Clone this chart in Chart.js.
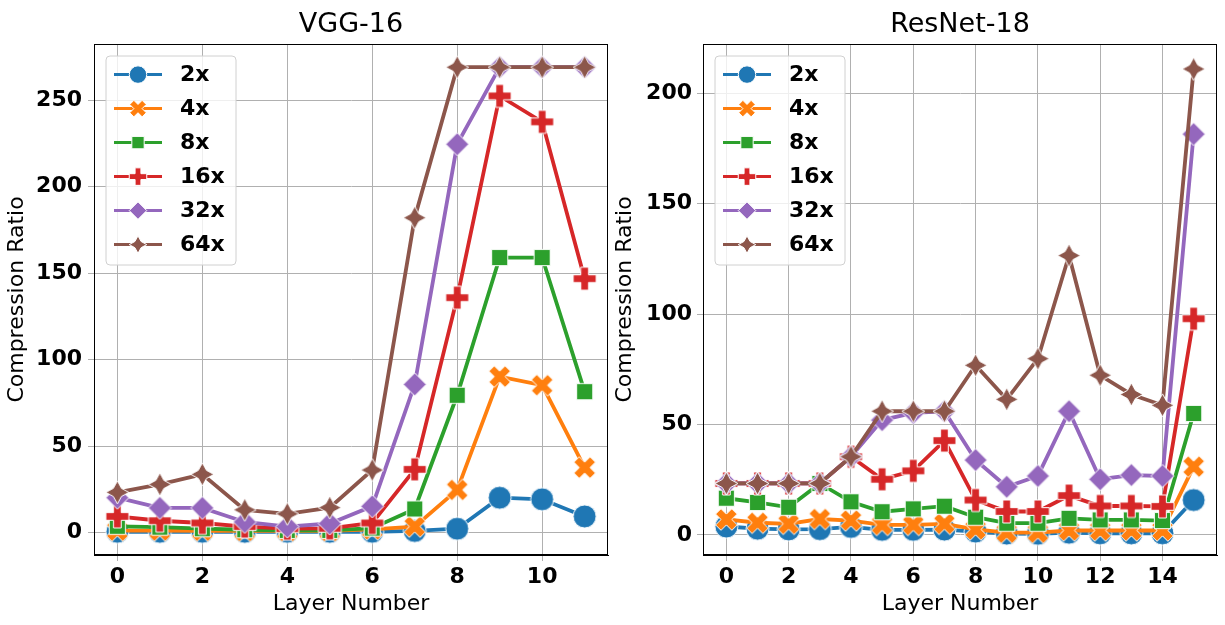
<!DOCTYPE html>
<html>
<head>
<meta charset="utf-8">
<script src="https://cdn.jsdelivr.net/npm/chart.js@4.4.1/dist/chart.umd.min.js"></script>
<style>
  html, body { margin: 0; padding: 0; background: #ffffff; }
  #wrap { position: relative; width: 1225px; height: 625px; overflow: hidden; }
  .cbox { position: absolute; top: 0; height: 625px; }
</style>
</head>
<body>
<div id="wrap">
  <div class="cbox" style="left:0;width:612px;"><canvas id="c1" width="612" height="625"></canvas></div>
  <div class="cbox" style="left:612px;width:613px;"><canvas id="c2" width="613" height="625"></canvas></div>
</div>
<script>
// ---------------- DATA ----------------
const seriesLabels = ['2x', '4x', '8x', '16x', '32x', '64x'];

const vggTitle = 'VGG-16';
const vggLayers = [0, 1, 2, 3, 4, 5, 6, 7, 8, 9, 10, 11];
const vgg2x  = [0.5, 0.5, 0.5, 0.5, 0.5, 0.5, 0.5, 1.0, 2.3, 20.2, 19.3, 9.4];
const vgg4x  = [1.2, 1.2, 1.1, 1.0, 1.0, 1.0, 1.9, 3.5, 24.7, 90.2, 85.2, 37.6];
const vgg8x  = [3.7, 3.2, 2.3, 1.7, 1.3, 1.3, 2.6, 13.7, 79.4, 159, 159, 81.5];
const vgg16x = [9.4, 6.9, 5.6, 3.5, 2.3, 2.5, 5.6, 36.6, 135.8, 252.4, 237.4, 146.8];
const vgg32x = [20.2, 14.3, 14.3, 6.2, 3.5, 5.3, 15.2, 85.7, 224.5, 269, 269, 269];
const vgg64x = [23.3, 27.9, 33.7, 13.2, 10.9, 14.5, 36.2, 182, 269, 269, 269, 269];
const vggYTicks = [0, 50, 100, 150, 200, 250];
const vggXTicks = [0, 2, 4, 6, 8, 10];

const resTitle = 'ResNet-18';
const resLayers = [0, 1, 2, 3, 4, 5, 6, 7, 8, 9, 10, 11, 12, 13, 14, 15];
const res2x  = [3.8, 2.8, 2.5, 2.6, 3.6, 2.3, 2.3, 2.4, 1.5, 0.6, 0.5, 1.0, 0.7, 0.7, 0.7, 15.8];
const res4x  = [7.0, 5.5, 5.0, 7.2, 6.5, 4.5, 4.5, 5.0, 2.5, 1.0, 1.0, 2.0, 2.0, 2.0, 2.0, 30.9];
const res8x  = [16.6, 14.7, 12.5, 23.3, 15.0, 10.5, 11.8, 13.0, 8.0, 5.3, 5.3, 7.5, 6.8, 6.8, 6.5, 55];
const res16x = [23.3, 23.3, 23.3, 23.3, 35.4, 25.2, 29.0, 42.7, 15.8, 10.6, 10.6, 17.8, 13.1, 13.1, 12.9, 97.9];
const res32x = [23.3, 23.3, 23.3, 23.3, 35.4, 52, 55.3, 56, 33.9, 21.8, 26.7, 56, 25.2, 27.1, 26.7, 181.5];
const res64x = [23.3, 23.3, 23.3, 23.3, 35.4, 56, 56, 56, 76.8, 61.4, 79.8, 126.5, 72.3, 63.6, 58.7, 211];
const resYTicks = [0, 50, 100, 150, 200];
const resXTicks = [0, 2, 4, 6, 8, 10, 12, 14];

// ---------------- STYLE ----------------
const colors = ['#1f77b4', '#ff7f0e', '#2ca02c', '#d62728', '#9467bd', '#8c564b'];
const markerKinds = ['circle', 'X', 'square', 'plus', 'diamond', 'star'];
const MARK = 23;      // marker size (px) on plot
const LEG_MARK = 17.5; // marker size in legend
const LINE_W = 3.8;

function markerPath(ctx, kind, M) {
  ctx.beginPath();
  if (kind === 'circle') {
    ctx.arc(0, 0, M / 2, 0, Math.PI * 2);
  } else if (kind === 'plus' || kind === 'X') {
    const pts = [[-1,-3],[1,-3],[1,-1],[3,-1],[3,1],[1,1],[1,3],[-1,3],[-1,1],[-3,1],[-3,-1],[-1,-1]];
    const a = kind === 'X' ? Math.PI / 4 : 0;
    pts.forEach((p, i) => {
      const x = p[0] / 6 * M, y = p[1] / 6 * M;
      const rx = x * Math.cos(a) - y * Math.sin(a);
      const ry = x * Math.sin(a) + y * Math.cos(a);
      if (i === 0) ctx.moveTo(rx, ry); else ctx.lineTo(rx, ry);
    });
  } else if (kind === 'square') {
    const h = M / 2 / Math.SQRT2;
    ctx.rect(-h, -h, 2 * h, 2 * h);
  } else if (kind === 'diamond') {
    const h = M / 2;
    ctx.moveTo(0, -h); ctx.lineTo(h, 0); ctx.lineTo(0, h); ctx.lineTo(-h, 0);
  } else if (kind === 'star') {
    for (let i = 0; i < 8; i++) {
      const th = Math.PI / 2 + i * Math.PI / 4;
      const r = (i % 2 === 0 ? 0.5 : 0.25) * M;
      const x = r * Math.cos(th), y = -r * Math.sin(th);
      if (i === 0) ctx.moveTo(x, y); else ctx.lineTo(x, y);
    }
  }
  ctx.closePath();
}

function drawMarker(ctx, kind, color, M, x, y) {
  ctx.save();
  ctx.translate(x, y);
  markerPath(ctx, kind, M);
  ctx.fillStyle = color;
  ctx.fill();
  ctx.lineWidth = 1;
  ctx.strokeStyle = '#ffffff';
  ctx.lineJoin = 'miter';
  ctx.stroke();
  ctx.restore();
}

function makeMarkerImage(kind, color, M) {
  const s = Math.ceil(M + 4);
  const c = document.createElement('canvas');
  c.width = s; c.height = s;
  const ctx = c.getContext('2d');
  drawMarker(ctx, kind, color, M, s / 2, s / 2);
  return c;
}

const markerImages = markerKinds.map((k, i) => makeMarkerImage(k, colors[i], MARK));

const frameAndLegend = {
  id: 'frameAndLegend',
  afterDraw(chart, args, opts) {
    const ctx = chart.ctx;
    const a = chart.chartArea;
    // full frame (spines)
    ctx.save();
    ctx.strokeStyle = '#000000';
    ctx.lineWidth = 1;
    ctx.strokeRect(Math.round(a.left) + 0.5, Math.round(a.top) + 0.5,
                   Math.round(a.right - a.left) - 1, Math.round(a.bottom - a.top) - 1);
    ctx.restore();
    // title over axes
    ctx.save();
    ctx.font = 'normal 27px "DejaVu Sans"';
    ctx.fillStyle = '#000000';
    ctx.textAlign = 'center';
    ctx.textBaseline = 'middle';
    ctx.fillText(opts.title, (a.left + a.right) / 2, 25);
    ctx.restore();
    // legend
    const L = a.left + 12, T = a.top + 12, W = 130, H = 209;
    ctx.save();
    ctx.beginPath();
    const r = 4;
    ctx.moveTo(L + r, T);
    ctx.arcTo(L + W, T, L + W, T + H, r);
    ctx.arcTo(L + W, T + H, L, T + H, r);
    ctx.arcTo(L, T + H, L, T, r);
    ctx.arcTo(L, T, L + W, T, r);
    ctx.closePath();
    ctx.fillStyle = 'rgba(255,255,255,0.8)';
    ctx.fill();
    ctx.strokeStyle = '#d0d0d0';
    ctx.lineWidth = 1;
    ctx.stroke();
    chart.data.datasets.forEach((ds, i) => {
      const cy = T + 18.6 + 34 * i;
      ctx.beginPath();
      ctx.moveTo(L + 8, cy);
      ctx.lineTo(L + 56, cy);
      ctx.strokeStyle = colors[i];
      ctx.lineWidth = LINE_W * 0.8;
      ctx.stroke();
      drawMarker(ctx, markerKinds[i], colors[i], LEG_MARK, L + 32, cy);
      ctx.font = 'bold 22px "DejaVu Sans"';
      ctx.fillStyle = '#000000';
      ctx.textAlign = 'left';
      ctx.textBaseline = 'middle';
      ctx.fillText(ds.label, L + 74, cy + 1);
    });
    ctx.restore();
  }
};

function buildDatasets(layers, arrays) {
  return arrays.map((arr, i) => ({
    label: seriesLabels[i],
    data: layers.map((x, j) => ({ x: x, y: arr[j] })),
    borderColor: colors[i],
    backgroundColor: colors[i],
    borderWidth: LINE_W,
    pointStyle: markerImages[i],
    pointRadius: 10,
    pointHoverRadius: 10,
    tension: 0,
    order: arrays.length - 1 - i
  }));
}

function makeChart(canvasId, title, layers, arrays, xTicks, yTicks, xRange, yRange, yAxisW, rightPad, yTickPad, yTitlePad) {
  const tickList = (arr) => arr.map(v => ({ value: v }));
  return new Chart(document.getElementById(canvasId), {
    type: 'line',
    data: { datasets: buildDatasets(layers, arrays) },
    plugins: [frameAndLegend],
    options: {
      responsive: false,
      animation: false,
      events: [],
      layout: { autoPadding: false, padding: { top: 44, right: rightPad, bottom: 0, left: 0 } },
      plugins: {
        legend: { display: false },
        tooltip: { enabled: false },
        title: { display: false },
        frameAndLegend: { title: title }
      },
      scales: {
        x: {
          type: 'linear',
          min: xRange[0], max: xRange[1],
          afterBuildTicks: s => { s.ticks = tickList(xTicks); },
          afterFit: s => { s.height = 70; },
          grid: { color: '#b0b0b0', lineWidth: 1, tickColor: '#b0b0b0', tickLength: 6, drawTicks: true },
          border: { display: true, color: '#000000', width: 1 },
          ticks: { font: { family: 'DejaVu Sans', size: 22, weight: 'bold' }, color: '#000000', padding: 3, maxRotation: 0, autoSkip: false },
          title: { display: true, text: 'Layer Number', font: { family: 'DejaVu Sans', size: 22 }, color: '#000000', padding: { top: 0, bottom: 8 } }
        },
        y: {
          type: 'linear',
          min: yRange[0], max: yRange[1],
          afterBuildTicks: s => { s.ticks = tickList(yTicks); },
          afterFit: s => { s.width = yAxisW; },
          grid: { color: '#b0b0b0', lineWidth: 1, tickColor: '#b0b0b0', tickLength: 6, drawTicks: true },
          border: { display: true, color: '#000000', width: 1 },
          ticks: { font: { family: 'DejaVu Sans', size: 22, weight: 'bold' }, color: '#000000', padding: yTickPad, autoSkip: false },
          title: { display: true, text: 'Compression Ratio', font: { family: 'DejaVu Sans', size: 22 }, color: '#000000', padding: { top: yTitlePad, bottom: 0 } }
        }
      }
    }
  });
}

makeChart('c1', vggTitle, vggLayers, [vgg2x, vgg4x, vgg8x, vgg16x, vgg32x, vgg64x],
  vggXTicks, vggYTicks, [-0.55, 11.55], [-12.9, 282.4], 94, 4, 6, 4);
makeChart('c2', resTitle, resLayers, [res2x, res4x, res8x, res16x, res32x, res64x],
  resXTicks, resYTicks, [-0.75, 15.75], [-9.1, 222.3], 91, 8, 5, 0);
</script>
</body>
</html>
